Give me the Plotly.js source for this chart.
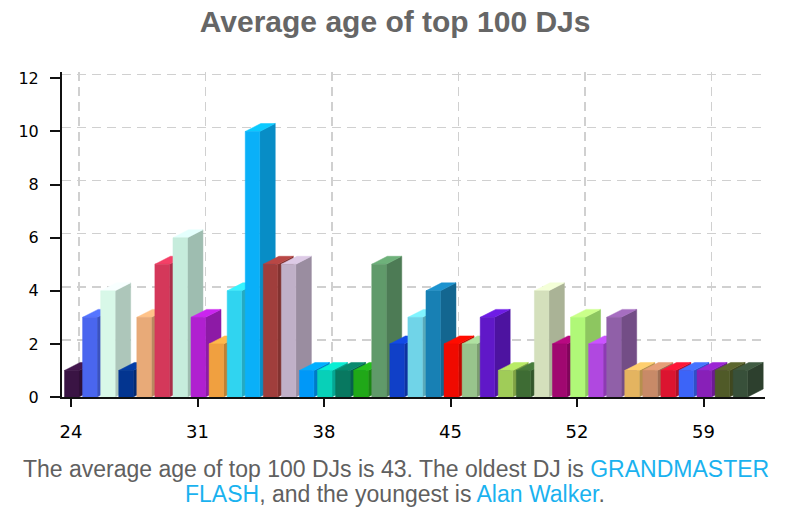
<!DOCTYPE html>
<html>
<head>
<meta charset="utf-8">
<script src="https://cdn.plot.ly/plotly-3.0.1.min.js"></script>
<style>
  body { margin: 0; background: #fff; }
  #chart { width: 808px; height: 523px; }
</style>
</head>
<body>
<div id="chart"></div>
<script>
// ages of the DJs and how many of the top 100 have that age
const ages = [24, 25, 26, 27, 28, 29, 30, 31, 32, 33, 34, 35, 36, 37, 38, 39, 40, 41, 42,
              43, 44, 45, 46, 47, 48, 49, 50, 51, 52, 53, 54, 55, 56, 57, 58, 59, 60, 61];
const counts = [1, 3, 4, 1, 3, 5, 6, 3, 2, 4, 10, 5, 5, 1, 1, 1, 1, 5, 2,
                3, 4, 2, 2, 3, 1, 1, 4, 2, 3, 2, 3, 1, 1, 1, 1, 1, 1, 1];
const barColors = [
  '#3a1444', '#4a66ee', '#d8f8e8', '#033590', '#e8aa78', '#d4385a', '#c6ecdc', '#b020d0',
  '#f0a040', '#30d4f0', '#0ab0f8', '#a03e3c', '#c0b0c8', '#0098f8', '#08d0b8', '#087860',
  '#20a818', '#609a6a', '#1040c8', '#70d4e8', '#1880b4', '#f00a00', '#98c48c', '#6018c8',
  '#a0cc58', '#3e6c34', '#d4e0bc', '#a00870', '#b0f878', '#b048e0', '#9060a8', '#e4b460',
  '#c88a68', '#dc1430', '#3c64f8', '#8820b8', '#505a28', '#38503a'
];
const xTicks = [24, 31, 38, 45, 52, 59];
const yTicks = [0, 2, 4, 6, 8, 10, 12];

const BLUE = '#1ab2ef';

// 3d look of the bars, in axis units
const barLeft = -0.36, barWidth = 0.8, depthX = 0.86, depthY = 0.3;

function shade(hex, f) {
  const n = parseInt(hex.slice(1), 16);
  const ch = [(n >> 16) & 255, (n >> 8) & 255, n & 255].map(c => Math.min(255, Math.round(c * f)));
  return 'rgb(' + ch.join(',') + ')';
}

function face(xs, ys, color) {
  return {
    type: 'scatter', mode: 'lines', x: xs.concat(xs[0]), y: ys.concat(ys[0]),
    fill: 'toself', fillcolor: color, line: { color: color, width: 0.5 },
    hoverinfo: 'skip', showlegend: false
  };
}

const traces = [];
for (let i = 0; i < ages.length; i++) {
  const v = counts[i];
  const c = barColors[i];
  const x0 = ages[i] + barLeft;
  const x1 = x0 + barWidth;
  // side, top, then front so the next bar covers this one's side
  traces.push(face([x1, x1 + depthX, x1 + depthX, x1], [0, depthY, v + depthY, v], shade(c, 0.8)));
  traces.push(face([x0, x1, x1 + depthX, x0 + depthX], [v, v, v + depthY, v + depthY], shade(c, 1.15)));
  traces.push(face([x0, x1, x1, x0], [0, 0, v, v], c));
}
// empty trace so the back wall grid axes get drawn
traces.push({ type: 'scatter', x: [], y: [], xaxis: 'x2', yaxis: 'y2', hoverinfo: 'skip', showlegend: false });

const xRange = [23.5, 62.4];
const yRange = [0, 12.24];

const gridStyle = {
  showgrid: true, gridcolor: '#d0d0d0', gridwidth: 1.5, griddash: '9px,6px',
  showticklabels: false, ticks: '', showline: false, zeroline: false, fixedrange: true
};

const layout = {
  width: 808,
  height: 523,
  margin: { l: 62, r: 43, t: 72, b: 126, pad: 0 },
  paper_bgcolor: '#ffffff',
  plot_bgcolor: 'rgba(0,0,0,0)',
  showlegend: false,
  font: { family: 'DejaVu Sans, Verdana, sans-serif', color: '#000' },
  title: {
    text: 'Average age of top 100 DJs',
    font: { family: 'Liberation Sans, Arial, sans-serif', size: 30, color: '#666666', weight: 'bold' },
    xref: 'container', x: 0.489, xanchor: 'center',
    yref: 'container', y: 0.958, yanchor: 'middle'
  },
  xaxis: {
    range: xRange, tickmode: 'array', tickvals: xTicks,
    ticks: 'outside', ticklen: 8, tickwidth: 2, tickcolor: '#111',
    showline: true, linecolor: '#111', linewidth: 2,
    showgrid: false, zeroline: false, fixedrange: true,
    tickfont: { size: 18, color: '#000' }, ticklabelstandoff: 9
  },
  yaxis: {
    range: yRange, tickmode: 'array', tickvals: yTicks,
    ticks: 'outside', ticklen: 10, tickwidth: 2, tickcolor: '#111',
    showline: true, linecolor: '#111', linewidth: 2,
    showgrid: false, zeroline: false, fixedrange: true,
    tickfont: { size: 16, color: '#000' }, ticklabelstandoff: 8
  },
  // back wall grid, shifted back and up by the bar depth
  xaxis2: Object.assign({ overlaying: 'x', range: [xRange[0] - 0.44, xRange[1] - 0.44],
                          tickmode: 'array', tickvals: xTicks }, gridStyle),
  yaxis2: Object.assign({ overlaying: 'y', range: [yRange[0] - 0.15, yRange[1] - 0.15],
                          tickmode: 'array', tickvals: yTicks.slice(1) }, gridStyle),
  annotations: [
    {
      text: 'The average age of top 100 DJs is 43. The oldest DJ is <span style="color:' + BLUE + '">GRANDMASTER</span>',
      xref: 'paper', yref: 'paper', x: 0.475, y: -0.2215, xanchor: 'center', yanchor: 'middle',
      showarrow: false, font: { family: 'Liberation Sans, Arial, sans-serif', size: 23, color: '#606060' }
    },
    {
      text: '<span style="color:' + BLUE + '">FLASH</span>, and the youngest is <span style="color:' + BLUE + '">Alan Walker</span>.',
      xref: 'paper', yref: 'paper', x: 0.4737, y: -0.2985, xanchor: 'center', yanchor: 'middle',
      showarrow: false, font: { family: 'Liberation Sans, Arial, sans-serif', size: 23, color: '#606060' }
    }
  ]
};

Plotly.newPlot('chart', traces, layout, { displayModeBar: false, staticPlot: true });
</script>
</body>
</html>
